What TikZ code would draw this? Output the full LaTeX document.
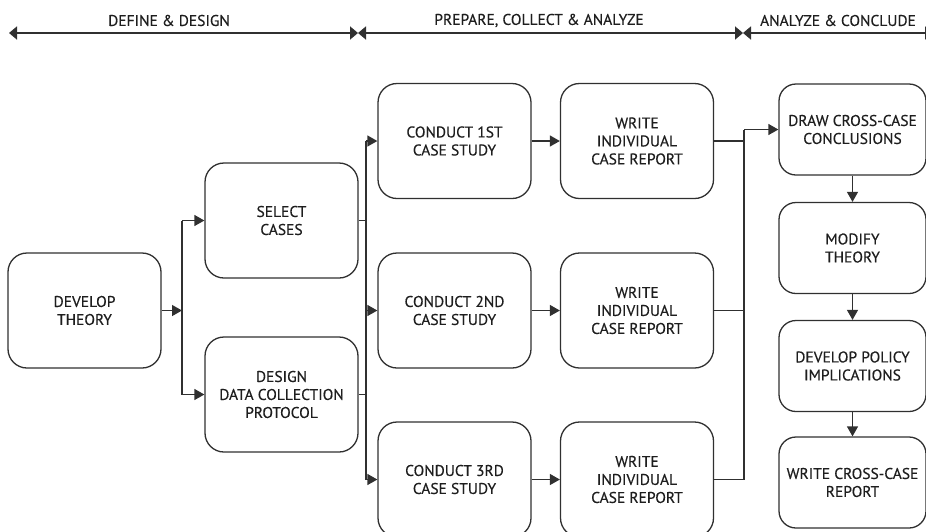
\documentclass[tikz,border=0pt]{standalone}
\usepackage{fontspec}
\setmainfont{PT Sans}
\newfontfamily\labelfont{PT Sans}[FakeBold=0.35]
\usetikzlibrary{arrows.meta}
\definecolor{ink}{HTML}{1E1E1E}
\definecolor{rule}{HTML}{303030}
\begin{document}
\begin{tikzpicture}[x=1pt,y=-1pt,
  font=\labelfont\fontsize{15.5}{18}\selectfont,
  stepbox/.style={draw=rule, line width=1.3pt, rounded corners=19pt,
    minimum width=153pt, minimum height=115pt, align=center,
    text=ink, inner sep=2pt},
  sidebox/.style={stepbox, minimum width=147pt, minimum height=91pt,
    rounded corners=17pt},
  link/.style={draw=rule, line width=1.3pt},
  arr/.style={link, -{Triangle[length=10pt,width=11pt]}},
  span/.style={draw=rule, line width=1.7pt,
    {Triangle[length=8pt,width=13pt]}-{Triangle[length=8pt,width=13pt]}},
  phase/.style={text=ink}]
\useasboundingbox (0,0) rectangle (926,531);
\clip (0,0) rectangle (926,531);
\fill[white] (0,0) rectangle (926,531);

% phase timeline
\coordinate (p0) at (9,33);
\coordinate (p1) at (358,33);
\coordinate (p2) at (743,33);
\coordinate (p3) at (933,33);
\draw[span] (p0) -- (p1);
\draw[span] (p1) -- (p2);
\draw[span] (p2) -- (p3);
\node[phase] (ph1) at (169,20.5) {DEFINE \& DESIGN};
\node[phase] (ph2) at (539,20.5) {PREPARE, COLLECT \& ANALYZE};
\node[phase] (ph3) at (838,20.5) {ANALYZE \& CONCLUDE};

% process boxes
\node[stepbox] (dev) at (84.5,310.5) {DEVELOP\\THEORY};
\node[stepbox] (sel) at (281.5,220.5) {SELECT\\CASES};
\node[stepbox] (des) at (281.5,394.5) {DESIGN\\DATA COLLECTION\\PROTOCOL};
\node[stepbox] (c1) at (454.5,141) {CONDUCT 1ST\\CASE STUDY};
\node[stepbox] (c2) at (454.5,310.5) {CONDUCT 2ND\\CASE STUDY};
\node[stepbox] (c3) at (454.5,479.5) {CONDUCT 3RD\\CASE STUDY};
\node[stepbox] (w1) at (637,141) {WRITE\\INDIVIDUAL\\CASE REPORT};
\node[stepbox] (w2) at (637,310.5) {WRITE\\INDIVIDUAL\\CASE REPORT};
\node[stepbox] (w3) at (637,479.5) {WRITE\\INDIVIDUAL\\CASE REPORT};
\node[sidebox] (r1) at (852.5,129.5) {DRAW CROSS-CASE\\CONCLUSIONS};
\node[sidebox] (r2) at (852.5,248) {MODIFY\\THEORY};
\node[sidebox] (r3) at (852.5,366) {DEVELOP POLICY\\IMPLICATIONS};
\node[sidebox] (r4) at (852.5,482.5) {WRITE CROSS-CASE\\REPORT};

% junction rails
\coordinate (j1) at (182,0);
\coordinate (j2) at (366,0);
\coordinate (j3) at (744,0);

% develop -> select / design
\draw[arr] (dev.east) -- (dev.east -| j1);
\draw[link] (sel.west -| j1) -- (des.west -| j1);
\draw[arr] (sel.west -| j1) -- (sel.west);
\draw[arr] (des.west -| j1) -- (des.west);

% select / design -> case studies
\draw[link] (sel.east) -- (sel.east -| j2);
\draw[link] (des.east) -- (des.east -| j2);
\draw[link] (c1.west -| j2) -- (c3.west -| j2);
\draw[arr] (c1.west -| j2) -- (c1.west);
\draw[arr] (c2.west -| j2) -- (c2.west);
\draw[arr] (c3.west -| j2) -- (c3.west);

% case studies -> reports
\draw[arr] (c1) -- (w1);
\draw[arr] (c2) -- (w2);
\draw[arr] (c3) -- (w3);

% reports -> cross-case conclusions
\draw[link] (w1.east) -- (w1.east -| j3);
\draw[link] (w2.east) -- (w2.east -| j3);
\draw[link] (w3.east) -- (w3.east -| j3) -- (r1.west -| j3);
\draw[arr] (r1.west -| j3) -- (r1.west);

% conclusion chain
\draw[arr] (r1) -- (r2);
\draw[arr] (r2) -- (r3);
\draw[arr] (r3) -- (r4);
\end{tikzpicture}
\end{document}
